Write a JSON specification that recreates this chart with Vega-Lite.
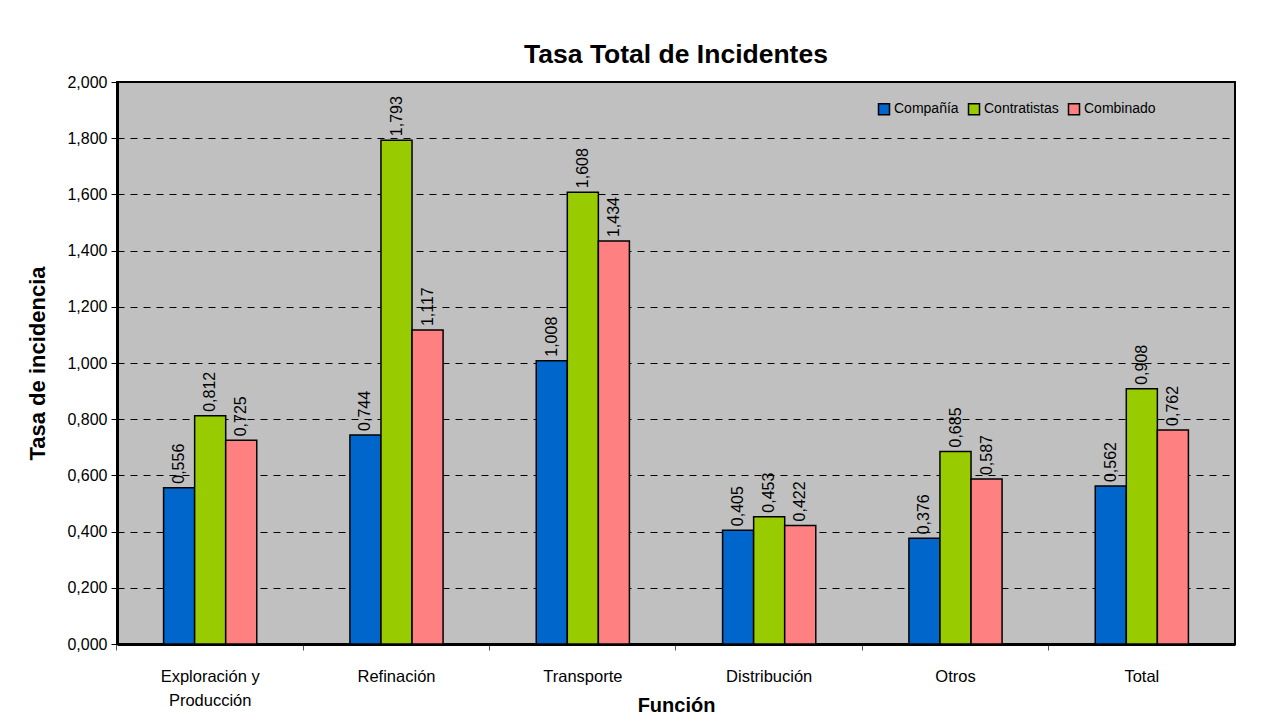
{
  "$schema": "https://vega.github.io/schema/vega-lite/v6.json",
  "width": 1118,
  "height": 562,
  "autosize": {"type": "none"},
  "padding": {"left": 117, "top": 82, "right": 31, "bottom": 76},
  "background": "white",
  "title": {
    "text": "Tasa Total de Incidentes",
    "fontSize": 26.5,
    "fontWeight": "bold",
    "font": "Liberation Sans",
    "color": "#000",
    "anchor": "middle",
    "offset": 6
  },
  "config": {
    "locale": {"number": {"decimal": ",", "thousands": ".", "grouping": [3], "currency": ["", ""]}},
    "font": "Liberation Sans",
    "view": {"fill": "#C0C0C0", "stroke": "#000", "strokeWidth": 2}
  },
  "data": {
    "values": [
      {"funcion": "Exploración y Producción", "serie": "Compañía", "valor": 0.556},
      {"funcion": "Exploración y Producción", "serie": "Contratistas", "valor": 0.812},
      {"funcion": "Exploración y Producción", "serie": "Combinado", "valor": 0.725},
      {"funcion": "Refinación", "serie": "Compañía", "valor": 0.744},
      {"funcion": "Refinación", "serie": "Contratistas", "valor": 1.793},
      {"funcion": "Refinación", "serie": "Combinado", "valor": 1.117},
      {"funcion": "Transporte", "serie": "Compañía", "valor": 1.008},
      {"funcion": "Transporte", "serie": "Contratistas", "valor": 1.608},
      {"funcion": "Transporte", "serie": "Combinado", "valor": 1.434},
      {"funcion": "Distribución", "serie": "Compañía", "valor": 0.405},
      {"funcion": "Distribución", "serie": "Contratistas", "valor": 0.453},
      {"funcion": "Distribución", "serie": "Combinado", "valor": 0.422},
      {"funcion": "Otros", "serie": "Compañía", "valor": 0.376},
      {"funcion": "Otros", "serie": "Contratistas", "valor": 0.685},
      {"funcion": "Otros", "serie": "Combinado", "valor": 0.587},
      {"funcion": "Total", "serie": "Compañía", "valor": 0.562},
      {"funcion": "Total", "serie": "Contratistas", "valor": 0.908},
      {"funcion": "Total", "serie": "Combinado", "valor": 0.762}
    ]
  },
  "encoding": {
    "x": {
      "field": "funcion",
      "type": "nominal",
      "sort": null,
      "scale": {"paddingInner": 0.5, "paddingOuter": 0.25},
      "axis": {
        "title": "Función",
        "titleFontSize": 20,
        "titleFontWeight": "bold",
        "titleColor": "#000",
        "titlePadding": -13,
        "labelAngle": 0,
        "labelFontSize": 16.5,
        "labelColor": "#000",
        "labelPadding": 18,
        "labelLineHeight": 24,
        "labelExpr": "datum.value == 'Exploración y Producción' ? ['Exploración y', 'Producción'] : datum.value",
        "bandPosition": -0.5,
        "tickColor": "#555",
        "tickSize": 6,
        "domainColor": "#000",
        "domainWidth": 3,
        "grid": false
      }
    },
    "xOffset": {
      "field": "serie",
      "type": "nominal",
      "sort": ["Compañía", "Contratistas", "Combinado"],
      "scale": {"paddingInner": 0, "paddingOuter": 0}
    },
    "y": {
      "field": "valor",
      "type": "quantitative",
      "scale": {"domain": [0, 2], "nice": false},
      "axis": {
        "title": "Tasa de incidencia",
        "titleFontSize": 22,
        "titleFontWeight": "bold",
        "titleColor": "#000",
        "titlePadding": 17,
        "format": ".3f",
        "values": [0, 0.2, 0.4, 0.6, 0.8, 1.0, 1.2, 1.4, 1.6, 1.8, 2.0],
        "labelFontSize": 16,
        "labelColor": "#000",
        "labelPadding": 4,
        "tickColor": "#000",
        "tickSize": 6,
        "domainColor": "#000",
        "domainWidth": 3,
        "grid": true,
        "gridColor": "#000",
        "gridDash": [7, 6],
        "gridWidth": 1
      }
    }
  },
  "layer": [
    {
      "mark": {"type": "bar", "stroke": "#000", "strokeWidth": 1.5},
      "encoding": {
        "color": {
          "field": "serie",
          "type": "nominal",
          "sort": ["Compañía", "Contratistas", "Combinado"],
          "scale": {"domain": ["Compañía", "Contratistas", "Combinado"], "range": ["#0066CC", "#99CC00", "#FF8080"]},
          "legend": {
            "title": null,
            "orient": "none",
            "legendX": 760,
            "legendY": 20,
            "direction": "horizontal",
            "symbolType": "square",
            "symbolSize": 121,
            "symbolStrokeColor": "#000",
            "symbolStrokeWidth": 1.5,
            "symbolOpacity": 1,
            "labelFontSize": 14,
            "labelColor": "#000",
            "labelOffset": 3,
            "columnPadding": 6
          }
        }
      }
    },
    {
      "mark": {"type": "text", "angle": 270, "align": "left", "baseline": "middle", "dx": 4, "fontSize": 16, "color": "#000"},
      "encoding": {
        "text": {"field": "valor", "type": "quantitative", "format": ".3f"}
      }
    }
  ]
}
